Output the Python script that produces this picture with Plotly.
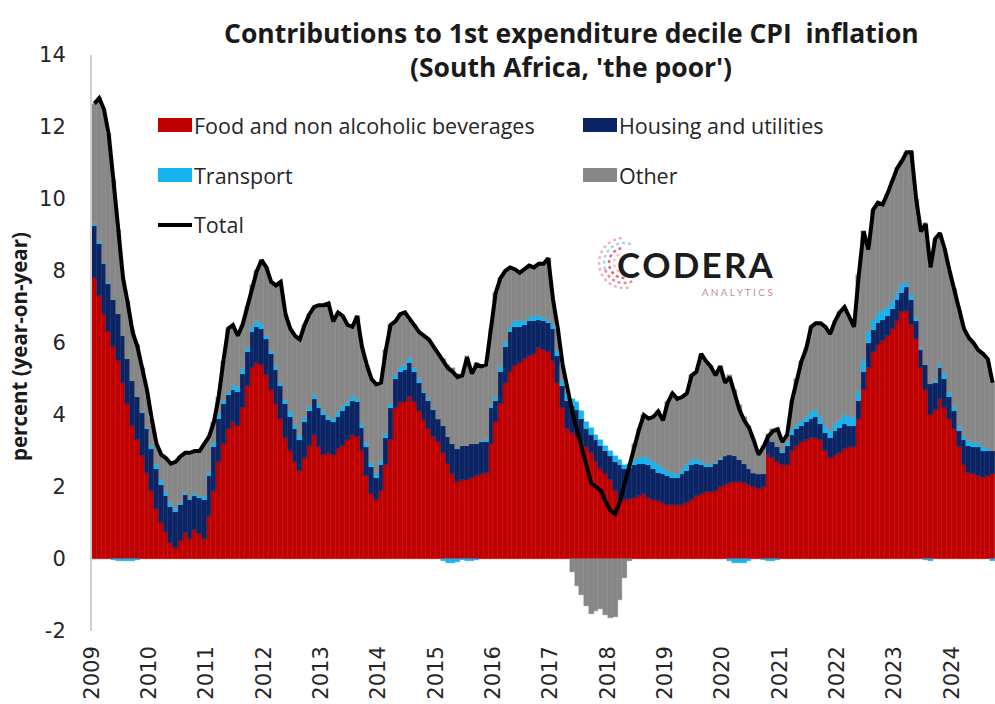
import math
import plotly.graph_objects as go

# Year labels on the category axis (one tick every 12 monthly bars)
years = [str(y) for y in range(2009, 2025)]

# Monthly contributions (percentage points), Jan 2009 - Sep 2024
food = [
    7.8, 7.3, 6.8, 6.3, 5.9, 5.5, 4.9, 4.3, 3.7, 3.3, 2.85, 2.4,        # 2009
    1.9, 1.4, 1.0, 0.75, 0.45, 0.3, 0.5, 0.72, 0.55, 0.8, 0.7, 0.55,   # 2010
    1.2, 1.9, 2.7, 3.2, 3.6, 3.8, 3.7, 4.2, 4.8, 5.3, 5.45, 5.4,       # 2011
    5.1, 4.7, 4.3, 3.9, 3.35, 3.0, 2.7, 2.45, 2.8, 3.15, 3.45, 3.1,    # 2012
    2.9, 2.95, 2.9, 3.05, 3.15, 3.3, 3.45, 3.4, 3.0, 2.3, 1.8, 1.65,   # 2013
    1.9, 2.6, 3.3, 4.2, 4.35, 4.35, 4.5, 4.35, 4.1, 3.85, 3.6, 3.4,    # 2014
    3.25, 2.95, 2.65, 2.35, 2.15, 2.2, 2.2, 2.25, 2.3, 2.35, 2.4, 3.2, # 2015
    3.8, 4.3, 4.9, 5.2, 5.35, 5.45, 5.55, 5.65, 5.7, 5.85, 5.8, 5.75,  # 2016
    5.5, 4.9, 4.2, 3.6, 3.5, 3.4, 3.25, 3.1, 2.95, 2.7, 2.5, 2.35,     # 2017
    2.2, 1.9, 1.65, 1.65, 1.68, 1.7, 1.75, 1.8, 1.7, 1.65, 1.6, 1.55,  # 2018
    1.5, 1.5, 1.5, 1.5, 1.55, 1.65, 1.75, 1.8, 1.85, 1.85, 1.9, 2.0,   # 2019
    2.05, 2.1, 2.15, 2.15, 2.1, 2.05, 2.0, 1.95, 2.0, 2.9, 2.8, 2.7,   # 2020
    2.6, 2.6, 3.0, 3.15, 3.25, 3.3, 3.35, 3.35, 3.3, 3.0, 2.8, 2.9,    # 2021
    2.95, 3.05, 3.1, 3.1, 3.9, 4.7, 5.3, 5.75, 5.95, 6.05, 6.2, 6.4,   # 2022
    6.6, 6.85, 6.9, 6.5, 6.1, 5.3, 4.7, 4.0, 4.15, 4.45, 4.2, 3.9,     # 2023
    3.6, 3.1, 2.6, 2.4, 2.35, 2.3, 2.25, 2.3, 2.35,                    # 2024
]

housing = [
    1.45, 1.45, 1.4, 1.35, 1.3, 1.3, 1.3, 1.25, 1.25, 1.2, 1.2, 1.2,
    1.15, 1.1, 1.05, 1.0, 1.0, 1.0, 1.0, 1.05, 1.1, 0.95, 1.0, 1.1,
    1.1, 1.2, 1.2, 1.1, 0.95, 0.9, 0.95, 0.95, 0.95, 1.0, 1.0, 1.0,
    1.0, 1.0, 0.95, 0.9, 0.95, 0.95, 0.9, 0.85, 1.0, 0.95, 1.0, 1.1,
    1.1, 0.9, 0.9, 0.9, 0.95, 0.95, 0.95, 0.95, 0.65, 0.8, 0.75, 0.6,
    0.7, 0.75, 0.9, 0.8, 0.85, 0.9, 0.95, 0.85, 0.8, 0.75, 0.8, 0.75,
    0.65, 0.75, 0.75, 0.85, 0.9, 0.95, 0.95, 0.95, 0.9, 0.9, 0.85, 1.0,
    0.6, 0.9, 1.0, 1.1, 1.1, 1.0, 0.95, 0.95, 0.9, 0.8, 0.8, 0.8,
    0.9, 0.75, 0.6, 0.8, 0.75, 0.75, 0.65, 0.5, 0.5, 0.6, 0.65, 0.65,
    0.65, 0.8, 0.95, 0.85, 0.85, 0.9, 0.9, 0.85, 0.9, 0.85, 0.8, 0.8,
    0.8, 0.75, 0.75, 0.85, 0.9, 0.95, 0.9, 0.8, 0.7, 0.7, 0.75, 0.75,
    0.8, 0.8, 0.7, 0.6, 0.55, 0.45, 0.4, 0.4, 0.35, 0.45, 0.45, 0.4,
    0.35, 0.55, 0.45, 0.45, 0.45, 0.5, 0.55, 0.6, 0.45, 0.5, 0.55, 0.65,
    0.7, 0.7, 0.6, 0.6, 0.5, 0.5, 0.7, 0.6, 0.6, 0.6, 0.55, 0.55,
    0.6, 0.55, 0.65, 0.7, 0.5, 0.5, 0.7, 0.85, 0.75, 0.85, 0.8, 0.6,
    0.5, 0.45, 0.7, 0.75, 0.75, 0.8, 0.75, 0.7, 0.65,
]

transport = [
    0.05, 0.05, 0.03, 0.02, -0.03, -0.05, -0.06, -0.06, -0.05, -0.04, 0.02, 0.05,
    0.08, 0.1, 0.12, 0.12, 0.1, 0.08, 0.05, 0.05, 0.05, 0.05, 0.06, 0.08,
    0.1, 0.12, 0.12, 0.1, 0.1, 0.12, 0.12, 0.12, 0.12, 0.15, 0.15, 0.12,
    0.1, 0.08, 0.1, 0.1, 0.1, 0.12, 0.12, 0.12, 0.12, 0.12, 0.1, 0.1,
    0.1, 0.1, 0.1, 0.12, 0.12, 0.12, 0.12, 0.1, 0.1, 0.12, 0.12, 0.12,
    0.12, 0.12, 0.1, 0.1, 0.12, 0.15, 0.12, 0.1, 0.1, 0.08, 0.05, 0.03,
    0.0, -0.05, -0.1, -0.1, -0.08, -0.02, -0.05, -0.06, -0.04, 0.02, 0.05, 0.08,
    0.1, 0.12, 0.12, 0.15, 0.15, 0.15, 0.12, 0.12, 0.12, 0.12, 0.1, 0.1,
    0.1, 0.12, 0.15, 0.18, 0.2, 0.2, 0.2, 0.2, 0.18, 0.15, 0.15, 0.15,
    0.15, 0.15, 0.15, 0.12, 0.12, 0.15, 0.15, 0.18, 0.2, 0.2, 0.2, 0.18,
    0.15, 0.15, 0.12, 0.12, 0.15, 0.15, 0.12, 0.1, 0.08, 0.06, 0.03, 0.02,
    0.0, -0.05, -0.1, -0.12, -0.1, -0.05, 0.0, 0.02, -0.03, -0.06, -0.06, -0.04,
    0.05, 0.1, 0.12, 0.12, 0.12, 0.15, 0.18, 0.18, 0.2, 0.2, 0.2, 0.2,
    0.22, 0.25, 0.25, 0.25, 0.25, 0.3, 0.3, 0.28, 0.28, 0.25, 0.25, 0.22,
    0.2, 0.2, 0.15, 0.12, 0.1, 0.05, -0.03, -0.05, 0.05, 0.12, 0.15, 0.12,
    0.12, 0.12, 0.12, 0.12, 0.12, 0.12, 0.1, 0.08, -0.05,
]

# Headline year-on-year inflation for the first expenditure decile
total = [
    12.65, 12.8, 12.5, 11.8, 10.5, 9.1, 7.8, 7.1, 6.3, 5.9, 5.3, 4.7,
    3.9, 3.2, 2.9, 2.8, 2.65, 2.7, 2.85, 2.95, 2.95, 3.0, 3.0, 3.2,
    3.4, 3.8, 4.5, 5.5, 6.4, 6.5, 6.2, 6.5, 7.0, 7.6, 8.0, 8.3,
    8.1, 7.7, 7.6, 7.7, 6.8, 6.4, 6.2, 6.1, 6.5, 6.8, 7.0, 7.05,
    7.05, 7.1, 6.6, 6.85, 6.75, 6.5, 6.45, 6.75, 5.9, 5.4, 5.0, 4.85,
    4.9, 5.8, 6.5, 6.6, 6.8, 6.85, 6.65, 6.5, 6.3, 6.2, 6.1, 5.9,
    5.7, 5.5, 5.3, 5.2, 5.05, 5.1, 5.6, 5.15, 5.4, 5.35, 5.4, 6.4,
    7.4, 7.8, 8.0, 8.1, 8.05, 7.95, 8.05, 8.15, 8.1, 8.2, 8.2, 8.35,
    7.2, 6.4, 5.4, 4.7, 4.1, 3.6, 3.1, 2.5, 2.1, 2.0, 1.9, 1.6,
    1.35, 1.25, 1.6, 2.1, 2.6, 3.2, 3.6, 4.0, 3.9, 3.95, 4.1, 3.85,
    4.35, 4.6, 4.45, 4.5, 4.6, 5.1, 5.2, 5.7, 5.5, 5.35, 5.1, 5.35,
    4.9, 5.05, 4.6, 4.15, 3.85, 3.65, 3.3, 2.9, 3.1, 3.4, 3.55, 3.6,
    3.25, 3.45, 4.4, 5.0, 5.5, 5.85, 6.45, 6.55, 6.55, 6.45, 6.25, 6.6,
    6.85, 7.0, 6.7, 6.45, 7.9, 9.1, 8.6, 9.7, 9.9, 9.85, 10.15, 10.5,
    10.85, 11.05, 11.3, 11.3, 10.0, 9.1, 9.3, 8.1, 8.9, 9.05, 8.6, 8.0,
    7.5, 6.9, 6.4, 6.15, 6.0, 5.8, 5.7, 5.55, 4.9,
]

# "Other" is the remainder of headline inflation not explained above
other = [round(t - f - h - r, 3) for t, f, h, r in zip(total, food, housing, transport)]

n = len(total)
xs = [i + 0.5 for i in range(n)]

RED, NAVY, SKY, GREY = "#C00000", "#0B2464", "#17B3EE", "#878787"

fig = go.Figure()
for name, vals, col in [
    ("Food and non alcoholic beverages", food, RED),
    ("Housing and utilities", housing, NAVY),
    ("Transport", transport, SKY),
    ("Other", other, GREY),
]:
    fig.add_trace(go.Bar(
        x=xs, y=vals, name=name, width=1.0,
        marker=dict(color=col, line=dict(color=col, width=0.4)),
        showlegend=False,
    ))
fig.add_trace(go.Scatter(
    x=xs, y=total, name="Total", mode="lines",
    line=dict(color="black", width=4), showlegend=False,
))

# ---- page geometry helpers (pixel -> paper) ----
W, H = 995, 704
ML, MR, MT, MB = 92, 0, 55, 73
PW, PH = W - ML - MR, H - MT - MB


def px(x):
    return (x - ML) / PW


def py(y):
    return (H - MB - y) / PH


TXT = "#262626"
SANS = "Open Sans"
shapes = []
annotations = []

# Title (two lines)
for line_text, yc in [("Contributions to 1st expenditure decile CPI  inflation", 33),
                      ("(South Africa, 'the poor')", 67)]:
    annotations.append(dict(
        x=px(571), y=py(yc), xref="paper", yref="paper", xanchor="center", yanchor="middle",
        text=f"<b>{line_text}</b>", showarrow=False,
        font=dict(family=SANS, size=26.5, color="#1A1A1A")))

# Y axis title
annotations.append(dict(
    x=px(19), y=py(347), xref="paper", yref="paper", xanchor="center", yanchor="middle",
    text="<b>percent (year-on-year)</b>", textangle=-90, showarrow=False,
    font=dict(family=SANS, size=20.5, color="#1A1A1A")))

# Legend drawn as swatches + labels in a two-column grid
legend_items = [
    ("Food and non alcoholic beverages", RED, 158, 125, "rect"),
    ("Housing and utilities", NAVY, 583, 125, "rect"),
    ("Transport", SKY, 158, 175, "rect"),
    ("Other", GREY, 583, 175, "rect"),
    ("Total", "black", 158, 225, "line"),
]
for label, col, x0, yc, kind in legend_items:
    if kind == "rect":
        shapes.append(dict(type="rect", xref="paper", yref="paper",
                           x0=px(x0), x1=px(x0 + 34), y0=py(yc + 7), y1=py(yc - 7),
                           fillcolor=col, line=dict(width=0)))
    else:
        shapes.append(dict(type="line", xref="paper", yref="paper",
                           x0=px(x0), x1=px(x0 + 34), y0=py(yc), y1=py(yc),
                           line=dict(color=col, width=4)))
    annotations.append(dict(
        x=px(x0 + 34), y=py(yc), xref="paper", yref="paper",
        xanchor="left", yanchor="middle", text=label, showarrow=False,
        font=dict(family=SANS, size=21.5, color=TXT)))

# Company mark: ring of arcs + wordmark
cx, cy = 624, 263
ring = [(25, "#F0B3C2", 95, 285), (20, "#9FD4F2", 70, 200), (20, "#E58AA0", 200, 300),
        (15, "#D9708A", 100, 280), (10, "#F4C4CF", 120, 260)]
for r, col, a0, a1 in ring:
    pts = []
    for k in range(25):
        a = math.radians(a0 + (a1 - a0) * k / 24)
        pts.append((px(cx + r * math.cos(a)), py(cy - r * math.sin(a))))
    path = "M " + " L ".join(f"{x:.5f},{y:.5f}" for x, y in pts)
    shapes.append(dict(type="path", xref="paper", yref="paper", path=path,
                       line=dict(color=col, width=2.5, dash="dot")))
annotations.append(dict(
    x=px(776), y=py(300), xref="paper", yref="paper", xanchor="right", yanchor="bottom",
    align="right",
    text=("<span style='font-size:35px;color:#1C1C1C'><b>C\u200aO\u200aD\u200aE\u200aR\u200aA</b></span>"
          "<br><span style='font-size:10px'>A N A L Y T I C S</span>"),
    showarrow=False,
    font=dict(family="Lato", size=14, color="#C98A9A")))

fig.update_layout(
    width=W, height=H,
    margin=dict(l=ML, r=MR, t=MT, b=MB),
    barmode="relative", bargap=0,
    paper_bgcolor="white", plot_bgcolor="white",
    shapes=shapes, annotations=annotations,
    showlegend=False,
)
fig.update_xaxes(
    range=[0, n], tickvals=[12 * k for k in range(len(years))], ticktext=years,
    tickangle=-90, showgrid=False, zeroline=False, showline=False, ticks="",
    ticklabelstandoff=10,
    tickfont=dict(family="DejaVu Sans", size=21, color="#262626"),
)
yticks = list(range(-2, 15, 2))
fig.update_yaxes(
    range=[-2, 14], tickvals=yticks, ticktext=[str(v) for v in yticks], showgrid=False,
    zeroline=False, showline=True, linecolor="#D0D0D0", linewidth=2, ticks="",
    ticklabelstandoff=20,
    tickfont=dict(family="DejaVu Sans", size=21, color="#262626"),
)

fig.write_html("out.html")
